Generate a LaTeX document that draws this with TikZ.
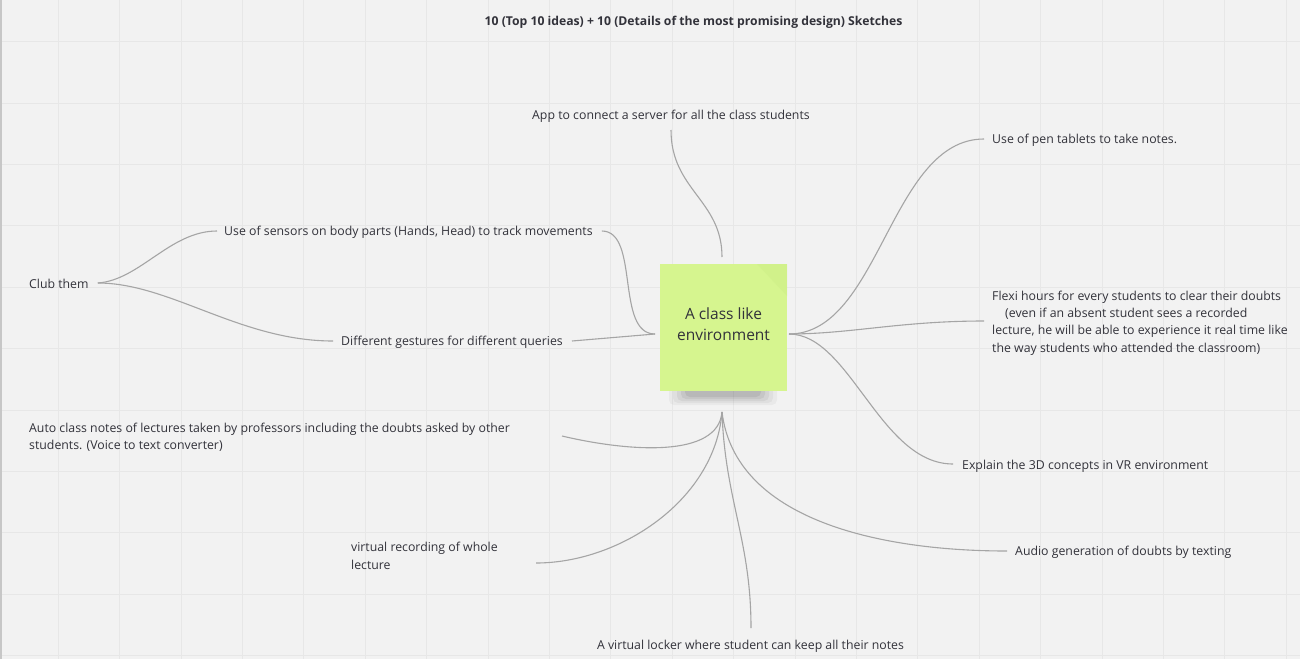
\documentclass[tikz,border=0pt]{standalone}
\usepackage{fontspec}
\setmainfont{Open Sans}
\usetikzlibrary{calc}
\definecolor{bg}{RGB}{242,242,242}
\definecolor{gridc}{RGB}{231,231,231}
\definecolor{linec}{RGB}{165,165,165}
\definecolor{notec}{RGB}{214,245,143}
\definecolor{notedark}{RGB}{205,238,135}
\definecolor{txt}{RGB}{50,50,58}
\begin{document}
\begin{tikzpicture}[x=1pt,y=-1pt,
  lbl/.style={font=\fontsize{12.3}{17.4}\selectfont, text=txt, inner sep=0pt},
  ttl/.style={font=\bfseries\fontsize{12.2}{14}\selectfont, text=txt, inner sep=0pt},
  conn/.style={draw=linec, line width=1.1pt}]
\fill[bg] (0,0) rectangle (1300,659);
\useasboundingbox (0,0) rectangle (1300,659);
% grid
\foreach \i in {0,...,20} \draw[gridc, line width=1pt] ({58.3+61.4*\i},0) -- ({58.3+61.4*\i},659);
\foreach \j in {0,...,10} \draw[gridc, line width=1pt] (0,{41.7+61.4*\j}) -- (1300,{41.7+61.4*\j});
\draw[black!22, line width=1.5pt] (0.75,0) -- (0.75,659);

% title
\node[ttl, anchor=base] (title) at (693.5,25) {10 (Top 10 ideas) + 10 (Details of the most promising design) Sketches};

% central sticky note with shadow
\begin{scope}
  \clip (640,391) rectangle (810,420);
  \foreach \w/\h/\o in {54/14/0.035,50/12/0.04,46/10/0.05,42/8/0.06,38/6/0.07} {
    \fill[black, opacity=\o, rounded corners=5pt] ({723-\w},385) rectangle ({723+\w},{391+\h});
  }
\end{scope}
\node[fill=notec, minimum width=127pt, minimum height=127pt, inner sep=0pt] (note) at (723.5,327.5) {};
\fill[notedark, opacity=0.5] (757,264) -- (787,264) -- (787,296) -- cycle;
\node[align=center, inner sep=0pt, font=\fontsize{15.5}{21}\selectfont, text=txt] (notetxt) at (723.5,324.5) {A class like\\environment};

% hub points
\coordinate (hubT) at (722,257);
\coordinate (hubL) at (655,334);
\coordinate (hubR) at (789,334);
\coordinate (hubB) at (722,412);

% labels
\node[lbl, anchor=base west] (app) at (532,119) {App to connect a server for all the class students};
\node[lbl, anchor=base west] (pen) at (992,143) {Use of pen tablets to take notes.};
\node[lbl, anchor=base west] (sens) at (224,235) {Use of sensors on body parts (Hands, Head) to track movements};
\node[lbl, anchor=base west] (club) at (29,288) {Club them};
\node[lbl, anchor=base west] (gest) at (341,345) {Different gestures for different queries};
\node[lbl, anchor=west, align=left] (flexi) at (992,323) {Flexi hours for every students to clear their doubts\\\hspace*{13pt}(even if an absent student sees a recorded\\lecture, he will be able to experience it real time like\\the way students who attended the classroom)};
\node[lbl, anchor=base west] (expl) at (962,469) {Explain the 3D concepts in VR environment};
\node[lbl, anchor=west, align=left] (auto) at (29,437) {Auto class notes of lectures taken by professors including the doubts asked by other\\students. (Voice to text converter)};
\node[lbl, anchor=west, align=left] (vrec) at (351,556) {virtual recording of whole\\lecture};
\node[lbl, anchor=base west] (audio) at (1015,555) {Audio generation of doubts by texting};
\node[lbl, anchor=base] (lock) at (750.5,649) {A virtual locker where student can keep all their notes};

% connector end points
\coordinate (appE) at ($(app.base west)+(139,11)$);
\coordinate (penE) at ($(pen.base west)+(-8,-4)$);
\coordinate (sensR) at ($(sens.east |- sens.base)+(9,-4)$);
\coordinate (sensL) at ($(sens.base west)+(-7,-4)$);
\coordinate (clubE) at ($(club.base east)+(9,-5)$);
\coordinate (gestR) at ($(gest.east |- gest.base)+(9,-4)$);
\coordinate (gestL) at ($(gest.base west)+(-8,-4)$);
\coordinate (flexiE) at ($(flexi.west)+(-8,-2)$);
\coordinate (explE) at ($(expl.base west)+(-9,-5)$);
\coordinate (autoE) at ($(auto.west)+(533,-1)$);
\coordinate (vrecE) at ($(vrec.west)+(185,7)$);
\coordinate (audioE) at ($(audio.base west)+(-8,-4)$);
\coordinate (lockE) at ($(lock.base)+(0.5,-21)$);

% connectors
\draw[conn] (appE) .. controls (671,190) and (722,200) .. (hubT);
\draw[conn] (sensR) .. controls (640,231) and (615,334) .. (hubL);
\draw[conn] (gestR) -- (hubL);
\draw[conn] (hubR) .. controls (880,334) and (890,139) .. (penE);
\draw[conn] (hubR) .. controls (850,334) and (900,321) .. (flexiE);
\draw[conn] (hubR) .. controls (850,334) and (880,464) .. (explE);
\draw[conn] (hubB) .. controls (718,458) and (630,452) .. (autoE);
\draw[conn] (hubB) .. controls (715,500) and (620,563) .. (vrecE);
\draw[conn] (hubB) .. controls (725,500) and (751,540) .. (lockE);
\draw[conn] (hubB) .. controls (735,520) and (880,551) .. (audioE);
\draw[conn] (clubE) .. controls (140,280) and (170,231) .. (sensL);
\draw[conn] (clubE) .. controls (170,283) and (240,341) .. (gestL);
\end{tikzpicture}
\end{document}
